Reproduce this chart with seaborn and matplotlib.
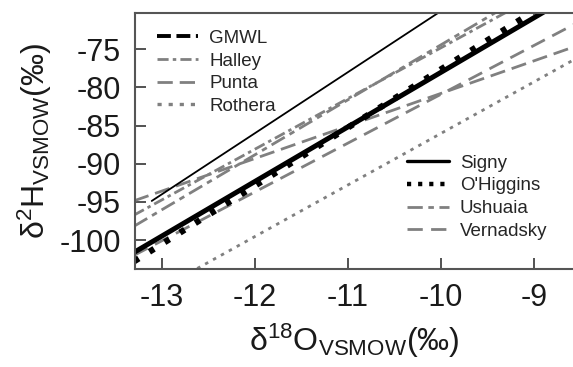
import numpy as np
import pandas as pd
import seaborn as sns
import matplotlib
matplotlib.use("Agg")
import matplotlib.pyplot as plt
from matplotlib.lines import Line2D

# regression lines: end points (d18O, d2H)
stations = ["GMWL", "Halley", "Punta", "Rothera",
            "Signy", "O'Higgins", "Ushuaia", "Vernadsky"]
x_start = [-13.11, -13.3, -13.3, -13.3, -13.3, -13.3, -13.3, -13.3]
x_end = [-9.0, -8.5, -8.5, -8.5, -8.5, -8.5, -8.5, -8.5]
y_start = [-94.88, -96.73, -94.86, -108.32, -101.62, -102.8, -98.19, -102.01]
y_end = [-62.0, -64.85, -74.39, -75.90, -67.3, -66.2, -63.62, -71.31]

x_ticks = [-13, -12, -11, -10, -9]
y_ticks = [-100, -95, -90, -85, -80, -75]

GRAY = "#808080"
# plot style / legend style per station
STYLE = {
    "GMWL":      dict(color="black", lw=1.3, ls="-"),
    "Halley":    dict(color=GRAY, lw=2.0, ls=(0, (8, 3, 2.5, 3))),
    "Punta":     dict(color=GRAY, lw=2.0, ls=(0, (11, 5))),
    "Rothera":   dict(color=GRAY, lw=2.0, ls=(0, (2.5, 4))),
    "Signy":     dict(color="black", lw=3.6, ls="-"),
    "O'Higgins": dict(color="black", lw=4.5, ls=(0, (4, 9))),
    "Ushuaia":   dict(color=GRAY, lw=2.0, ls=(0, (11, 4, 4, 4))),
    "Vernadsky": dict(color=GRAY, lw=2.0, ls=(0, (11, 6))),
}
LEG_STYLE = dict(STYLE)
LEG_STYLE["GMWL"] = dict(color="black", lw=2.8, ls=(0, (10, 4)))
LEG_STYLE["O'Higgins"] = dict(color="black", lw=3.2, ls=(0, (3, 5)))
LEG_STYLE["Signy"] = dict(color="black", lw=2.4, ls="-")
LEG_STYLE["Rothera"] = dict(color=GRAY, lw=2.4, ls=(0, (3, 5)))

rows = []
for s, x0, x1, y0, y1 in zip(stations, x_start, x_end, y_start, y_end):
    rows.append((s, x0, y0))
    rows.append((s, x1, y1))
df = pd.DataFrame(rows, columns=["station", "d18O", "d2H"])

sns.set_style("ticks")
plt.rcParams["font.family"] = ["Liberation Sans", "DejaVu Sans"]
plt.rcParams["mathtext.fontset"] = "custom"
plt.rcParams["mathtext.rm"] = "Liberation Sans"
plt.rcParams["mathtext.it"] = "Liberation Sans:italic"
plt.rcParams["lines.scale_dashes"] = False
plt.rcParams["lines.dash_capstyle"] = "butt"

fig = plt.figure(figsize=(5.73, 3.67), dpi=100)
ax = fig.add_axes([135 / 573, 98 / 367, 438 / 573, 256 / 367])

order = ["Halley", "Punta", "Rothera", "Ushuaia", "Vernadsky",
         "GMWL", "Signy", "O'Higgins"]
for s in order:
    st = STYLE[s]
    sns.lineplot(data=df[df["station"] == s], x="d18O", y="d2H", ax=ax,
                 color=st["color"], linewidth=st["lw"], linestyle=st["ls"],
                 sort=False, errorbar=None, legend=False)

ax.set_xlim(-13.29, -8.58)
ax.set_ylim(-103.8, -70.25)
ax.set_xticks(x_ticks)
ax.set_yticks(y_ticks)
ax.set_xticklabels([str(v) for v in x_ticks])
ax.set_yticklabels([str(v) for v in y_ticks])
ax.tick_params(direction="in", length=8, width=1.3, colors="#444444",
               labelcolor="#1a1a1a", labelsize=22, pad=10)
for side in ["left", "bottom", "top"]:
    ax.spines[side].set_color("#555555")
    ax.spines[side].set_linewidth(1.5)
ax.spines["right"].set_visible(False)

ax.set_xlabel("δ$^{18}$O$_{\\rm VSMOW}$(‰)", fontsize=23, color="#1a1a1a",
              labelpad=6)
ax.set_ylabel("δ$^{2}$H$_{\\rm VSMOW}$(‰)", fontsize=23, color="#1a1a1a",
              labelpad=4)


def handles(names):
    return [Line2D([0], [0], color=LEG_STYLE[n]["color"], lw=LEG_STYLE[n]["lw"],
                   ls=LEG_STYLE[n]["ls"]) for n in names]


left_names = ["GMWL", "Halley", "Punta", "Rothera"]
right_names = ["Signy", "O'Higgins", "Ushuaia", "Vernadsky"]
leg1 = ax.legend(handles(left_names), left_names, loc="upper left",
                 bbox_to_anchor=(0.05, 0.935), frameon=False, fontsize=13.5,
                 handlelength=2.2, handletextpad=0.6, labelspacing=0.3,
                 borderaxespad=0, borderpad=0)
ax.add_artist(leg1)
ax.legend(handles(right_names), right_names, loc="upper left",
          bbox_to_anchor=(0.622, 0.447), frameon=False, fontsize=13.5,
          handlelength=2.2, handletextpad=0.6, labelspacing=0.3,
          borderaxespad=0, borderpad=0)

fig.savefig("out.png", dpi=100)
